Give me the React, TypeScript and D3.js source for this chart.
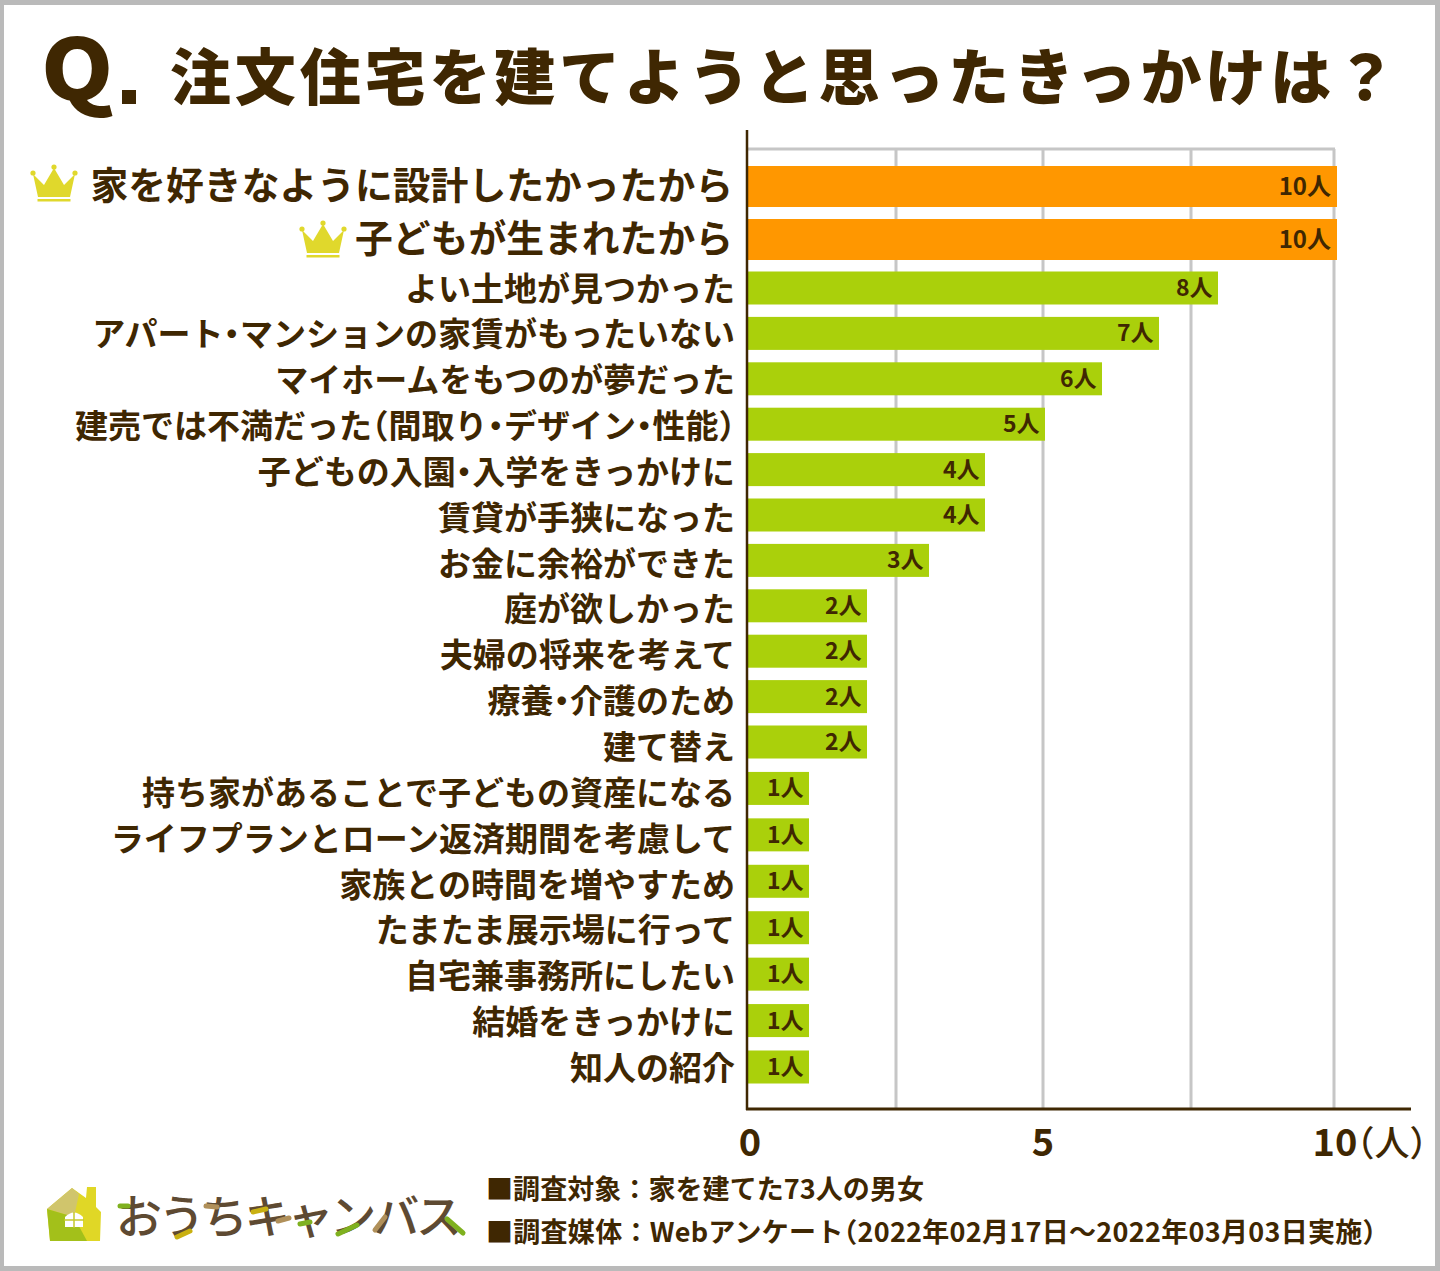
import React from "react";
import * as d3 from "d3";

const FONT = '"Noto Sans CJK JP","Noto Sans",sans-serif';
const INK = "#3f2702";
const GRID = "#c6c6c6";

const topCategories = ["家を好きなように設計したかったから", "子どもが生まれたから"];
const topValues = [10, 10];
const categories = [
  "よい土地が見つかった",
  "アパート・マンションの家賃がもったいない",
  "マイホームをもつのが夢だった",
  "建売では不満だった（間取り・デザイン・性能）",
  "子どもの入園・入学をきっかけに",
  "賃貸が手狭になった",
  "お金に余裕ができた",
  "庭が欲しかった",
  "夫婦の将来を考えて",
  "療養・介護のため",
  "建て替え",
  "持ち家があることで子どもの資産になる",
  "ライフプランとローン返済期間を考慮して",
  "家族との時間を増やすため",
  "たまたま展示場に行って",
  "自宅兼事務所にしたい",
  "結婚をきっかけに",
  "知人の紹介",
];
const values = [8, 7, 6, 5, 4, 4, 3, 2, 2, 2, 2, 1, 1, 1, 1, 1, 1, 1];
const gridTicks = [2.5, 5, 7.5, 10];
const axisTicks = [0, 5, 10];
const unitLabel = "（人）";
const title = "注文住宅を建てようと思ったきっかけは？";
const footer = ["■調査対象：家を建てた73人の男女", "■調査媒体：Webアンケート（2022年02月17日～2022年03月03日実施）"];

const xGrid = d3.scaleLinear().domain([0, 2.5, 5, 7.5, 10]).range([747, 896, 1043, 1191, 1334]);
const xBar = d3
  .scaleLinear()
  .domain([0, 1, 2, 3, 4, 5, 6, 7, 8, 10])
  .range([748, 809, 867, 929, 985, 1045, 1102, 1159, 1218, 1337]);
const yTop = d3.scalePoint<string>().domain(topCategories).range([186.5, 239.5]);
const yMain = d3.scaleLinear().domain([0, 10, 17]).range([288, 742, 1067]);
const yLabel = d3.scalePoint<string>().domain(categories).range([286.5, 1066]);

function Tight({ text }: { text: string }) {
  return (
    <>
      {text.split(/([・（）])/).map((p, i) =>
        /^[・（）]$/.test(p) ? (
          <tspan key={i} style={{ fontFeatureSettings: '"halt"' }}>
            {p}
          </tspan>
        ) : (
          <tspan key={i}>{p}</tspan>
        ),
      )}
    </>
  );
}

function Crown({ x, y }: { x: number; y: number }) {
  return (
    <g transform={`translate(${x},${y})`} fill="#e0d82c">
      <circle cx="3" cy="9" r="2.6" />
      <circle cx="24" cy="3" r="2.6" />
      <circle cx="45" cy="9" r="2.6" />
      <path d="M3 10 L14 21 L24 4 L34 21 L45 10 L40 33 L8 33 Z" />
      <rect x="7.5" y="35" width="33" height="2.5" />
    </g>
  );
}

function Logo() {
  const accents: [string, string][] = [
    ["#7fb11f", "M120 1206 L128 1206"],
    ["#b0905a", "M206 1206 L217 1207"],
    ["#c9b011", "M177 1237 L190 1231"],
    ["#c9b011", "M253 1212 L266 1209"],
    ["#b0905a", "M278 1221 L289 1218"],
    ["#7fb11f", "M300 1224 L310 1222"],
    ["#7fb11f", "M338 1234 L357 1225"],
    ["#b0905a", "M375 1230 L385 1217"],
    ["#7fb11f", "M447 1219 L463 1233"],
  ];
  return (
    <g>
      <path d="M47 1209 L72 1188 L86 1198 L87 1187 L96 1187 L96 1207 L101 1212 L100 1241 L50 1241 Z" fill="#e0d726" />
      <path d="M47 1209 L72 1188 L79 1194 L74 1217 Z" fill="#d0c56c" />
      <path d="M47 1209 L74 1217 L87 1241 L50 1241 Z" fill="#a3c01a" />
      <path d="M65 1227 L65 1217 Q74 1208 83 1217 L83 1227 Z" fill="#fff" />
      <path d="M74 1212 V1228 M64 1220 H84" stroke="#c5c92d" strokeWidth="1.5" />
      <text x="116" y="1233" fontFamily={FONT} fontWeight={500} fontSize={46} fill="#5e4a32" textLength={346} lengthAdjust="spacing">
        おうちキャンバス
      </text>
      {accents.map(([c, d], i) => (
        <path key={i} d={d} stroke={c} strokeWidth={5} strokeLinecap="round" fill="none" />
      ))}
    </g>
  );
}

export default function App() {
  return (
    <svg width={1440} height={1271} style={{ position: "absolute", left: 0, top: 0 }} fontFamily={FONT}>
      <rect width={1440} height={1271} fill="#bababa" />
      <rect x={4} y={5} width={1431} height={1261} fill="#fff" />

      <text transform="translate(41,100) scale(1,0.92)" fontWeight={900} fontSize={92} fill={INK}>
        Q
      </text>
      <rect x={122} y={90} width={14} height={14} fill={INK} />
      <text x={170} y={100} fontWeight={900} fontSize={61} fill={INK} textLength={1226} lengthAdjust="spacing">
        {title}
      </text>

      {/* grid */}
      <line x1={747} x2={1335} y1={149} y2={149} stroke={GRID} strokeWidth={3} />
      {gridTicks.map((t) => (
        <line key={t} x1={xGrid(t)} x2={xGrid(t)} y1={149} y2={1108} stroke={GRID} strokeWidth={3} />
      ))}

      {/* bars */}
      {topCategories.map((c, i) => (
        <g key={c}>
          <rect x={xBar(0)} y={yTop(c)! - 20.5} width={xBar(topValues[i]) - xBar(0)} height={41} fill="#ff9700" />
          <text x={xBar(topValues[i]) - 6} y={yTop(c)! - 2} fontSize={24} fontWeight={700} textAnchor="end" dominantBaseline="central" fill={INK}>
            {topValues[i]}人
          </text>
          <text x={733} y={yTop(c)! - 4.5} fontSize={37.8} fontWeight={700} textAnchor="end" dominantBaseline="central" fill={INK}>
            {c}
          </text>
        </g>
      ))}
      {categories.map((c, i) => (
        <g key={c}>
          <rect x={xBar(0)} y={yMain(i) - 16.5} width={xBar(values[i]) - xBar(0)} height={33} fill="#aad00b" />
          <text x={xBar(values[i]) - 5.5} y={yMain(i) - 2} fontSize={23} fontWeight={700} textAnchor="end" dominantBaseline="central" fill={INK}>
            {values[i]}人
          </text>
          <text x={735} y={yLabel(c)!} fontSize={33} fontWeight={700} textAnchor="end" dominantBaseline="central" fill={INK}>
            <Tight text={c} />
          </text>
        </g>
      ))}
      <Crown x={30} y={164} />
      <Crown x={299} y={220} />

      {/* axes */}
      <line x1={747} x2={747} y1={130} y2={1110} stroke={INK} strokeWidth={2.5} />
      <line x1={746} x2={1411} y1={1109} y2={1109} stroke={INK} strokeWidth={3} />
      {axisTicks.map((t) => (
        <text key={t} x={xGrid(t) + (t === 0 ? 3 : t === 10 ? 1 : 0)} y={1156} fontSize={38} fontWeight={700} textAnchor="middle" fill={INK}>
          {t}
        </text>
      ))}
      <text x={1357} y={1156} fontSize={35} fontWeight={500} fill={INK} style={{ fontFeatureSettings: '"halt"' }}>
        {unitLabel}
      </text>

      <Logo />

      {footer.map((f, i) => (
        <text key={f} x={486} y={1199 + i * 43} fontSize={27} fontWeight={700} fill={INK} textLength={i === 0 ? 438 : 890} lengthAdjust="spacing">
          <Tight text={f} />
        </text>
      ))}
    </svg>
  );
}
